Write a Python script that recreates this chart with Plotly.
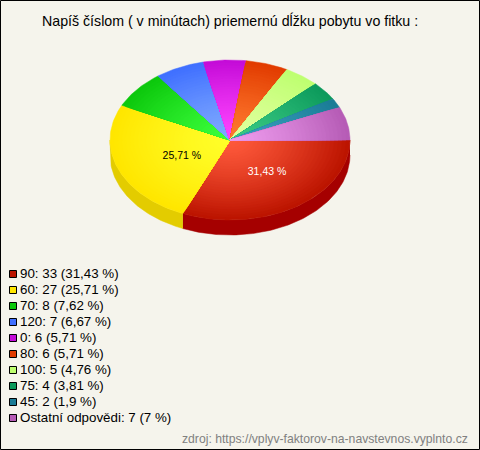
import numpy as np
import plotly.graph_objects as go

# ---- data ----
categories = ["90", "60", "70", "120", "0", "80", "100", "75", "45", "Ostatní odpovědi"]
counts = [33, 27, 8, 7, 6, 6, 5, 4, 2, 7]
percent_labels = ["31,43 %", "25,71 %", "7,62 %", "6,67 %", "5,71 %", "5,71 %", "4,76 %", "3,81 %", "1,9 %", "7 %"]
inner_colors = ["#FF5A3C", "#FFFF2A", "#3CFF3C", "#80AAFF", "#FF44FF", "#FF7A30", "#E2FFA0", "#3CCB85", "#3CA0C0", "#EE9CEE"]
outer_colors = ["#BC1400", "#FFE600", "#0CC80C", "#4070FF", "#C40CD8", "#E23C00", "#BEFF70", "#0C9A5C", "#1A7C96", "#B65CB6"]
side_colors = ["#A50000", "#E3CC00"]
title_text = "Napíš číslom ( v minútach) priemernú dĺžku pobytu vo fitku :"
source_text = "zdroj: https://vplyv-faktorov-na-navstevnos.vyplnto.cz"

# ---- geometry ----
CX, CY, RX, RY, DEPTH = 230, 140, 120, 80, 15
BG = "#F5F4EC"
RINGS = 30
total = sum(counts)
edges = np.concatenate([[0], np.cumsum(counts)]) / total * 2 * np.pi


def hex_rgb(h):
    return np.array([int(h[i:i + 2], 16) for i in (1, 3, 5)], float)


def arc(a0, a1, n=None):
    n = n or max(3, int((a1 - a0) * 60))
    return np.linspace(a0, a1, n)


fig = go.Figure()


def poly(x, y, color):
    fig.add_trace(go.Scatter(x=x, y=y, mode="lines", fill="toself", fillcolor=color,
                             line=dict(color=color, width=0.5), hoverinfo="skip", showlegend=False))


# side wall (only the front half of the disc is visible)
for i in range(2):
    a0 = edges[i]
    a1 = min(edges[i + 1], np.pi)
    t = arc(a0, a1)
    x = CX + RX * np.cos(t)
    y = CY + RY * np.sin(t)
    poly(np.concatenate([x, x[::-1]]), np.concatenate([y, y[::-1] + DEPTH]), side_colors[i])

# top surface: radial shading built from nested wedges, outer ring first
for i in range(len(counts)):
    c_in, c_out = hex_rgb(inner_colors[i]), hex_rgb(outer_colors[i])
    for k in range(RINGS, 0, -1):
        f = k / RINGS
        rgb = c_in + (c_out - c_in) * f ** 1.3
        col = "rgb(%d,%d,%d)" % tuple(rgb)
        t = arc(edges[i], edges[i + 1])
        x = np.concatenate([[CX], CX + f * RX * np.cos(t), [CX]])
        y = np.concatenate([[CY], CY + f * RY * np.sin(t), [CY]])
        poly(x, y, col)

# percentage labels on the two largest slices
label_cols = ["#FFFFFF", "#000000"]
label_shift = [(4, -1), (8, 2)]
lx, ly = [], []
for i in range(2):
    m = (edges[i] + edges[i + 1]) / 2
    lx.append(CX + 0.5 * RX * np.cos(m) + label_shift[i][0])
    ly.append(CY + 0.5 * RY * np.sin(m) + label_shift[i][1])
fig.add_trace(go.Scatter(x=lx, y=ly, mode="text", text=percent_labels[:2],
                         textposition="middle center",
                         textfont=dict(family="Liberation Sans", size=10.5, color=label_cols),
                         hoverinfo="skip", showlegend=False))

# legend
ROW0, STEP = 274, 16
rows = [ROW0 + STEP * i for i in range(len(categories))]
fig.add_trace(go.Scatter(x=[13] * len(rows), y=rows, mode="markers",
                         marker=dict(symbol="square", size=7, color=outer_colors,
                                     line=dict(color="#000000", width=1)),
                         hoverinfo="skip", showlegend=False))
fig.add_trace(go.Scatter(x=[20] * len(rows), y=[r + 1 for r in rows], mode="text",
                         text=[f"{c}: {v} ({p})" for c, v, p in zip(categories, counts, percent_labels)],
                         textposition="middle right",
                         textfont=dict(family="Liberation Sans", size=13.35, color="#000000"),
                         hoverinfo="skip", showlegend=False))

fig.update_layout(
    width=480, height=450, margin=dict(l=0, r=0, t=0, b=0),
    paper_bgcolor=BG, plot_bgcolor=BG, hovermode=False,
    xaxis=dict(range=[0, 480], visible=False, fixedrange=True),
    yaxis=dict(range=[450, 0], visible=False, fixedrange=True),
    annotations=[
        dict(x=230, y=20, xref="x", yref="y", text=title_text, showarrow=False, xanchor="center", yanchor="middle",
             font=dict(family="Liberation Sans", size=14.2, color="#000000")),
        dict(x=470, y=439, xref="x", yref="y", text=source_text, showarrow=False, xanchor="right", yanchor="middle",
             font=dict(family="Liberation Sans", size=12.2, color="#808080")),
    ],
    shapes=[dict(type="rect", xref="x", yref="y", x0=0.5, y0=0.5, x1=479.5, y1=449.5,
                 line=dict(color="#000000", width=1), fillcolor="rgba(0,0,0,0)")],
)
fig.write_html("out.html", config={"displayModeBar": False},
               post_script="document.body.style.margin='0';document.documentElement.style.overflow='hidden';")
